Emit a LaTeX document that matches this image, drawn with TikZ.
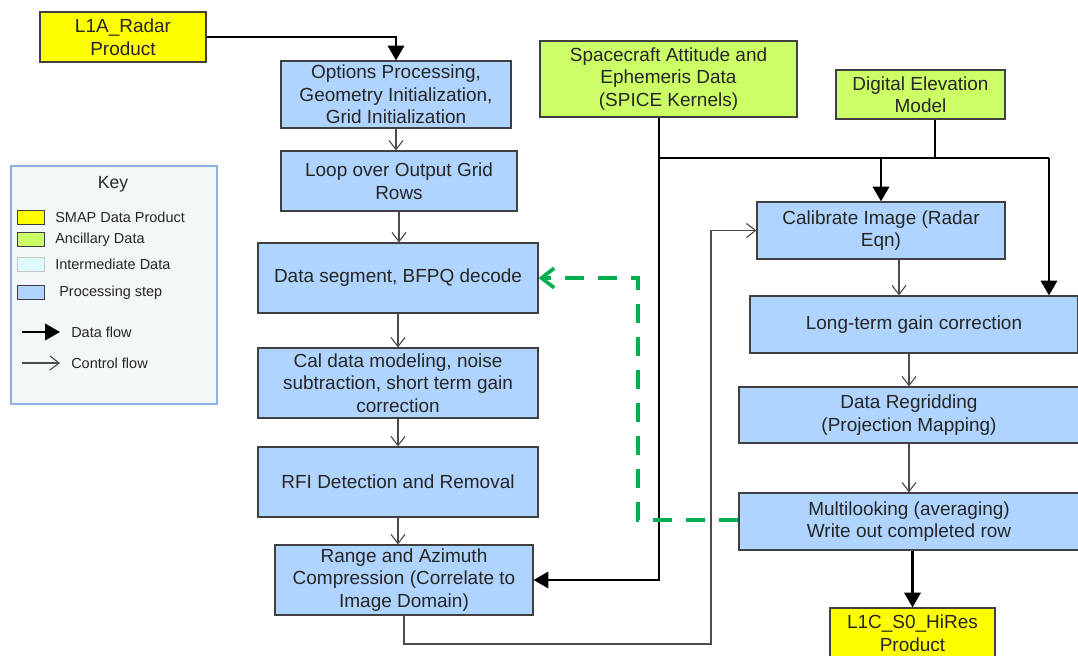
\documentclass[tikz,border=0pt]{standalone}
\usepackage{fontspec}
\setmainfont{Liberation Sans}
\usetikzlibrary{arrows.meta}
\definecolor{prodyellow}{RGB}{255,255,0}
\definecolor{ancgreen}{RGB}{204,255,102}
\definecolor{procblue}{RGB}{175,212,255}
\definecolor{interblue}{RGB}{222,250,252}
\definecolor{keyfill}{RGB}{242,247,250}
\definecolor{keyedge}{RGB}{141,178,226}
\definecolor{edgegray}{RGB}{64,64,64}
\definecolor{fbgreen}{RGB}{0,176,80}
\begin{document}
\begin{tikzpicture}[
		box/.style={draw=edgegray, line width=0.8pt, align=center, inner sep=1pt, text=black!85, font=\fontsize{13.5}{16}\selectfont},
		product/.style={box, fill=prodyellow},
		ancillary/.style={box, fill=ancgreen},
		proc/.style={box, fill=procblue},
		dataline/.style={line width=2pt},
		dataflow/.style={dataline, -{Triangle[length=10.5pt,width=11.5pt]}},
		ctrl/.style={line width=0.8pt, draw=black!70, -{Straight Barb[length=6.5pt,width=10pt]}},
		feedback/.style={line width=2.6pt, draw=fbgreen, dash pattern=on 13.5pt off 10pt, -{Straight Barb[length=9pt,width=14pt]}},
		swatch/.style={draw=edgegray, line width=0.7pt, minimum width=0.675cm, minimum height=0.35cm, inner sep=0pt},
		keylabel/.style={anchor=west, inner sep=0pt, text=black!85, font=\fontsize{10.3}{12}\selectfont}]
	\useasboundingbox (0,0) rectangle (26.95,16.40);
	\node[product, minimum width=4.15cm, minimum height=1.25cm] (l1a) at (3.075,15.475) {L1A\_Radar\\Product};
	\node[proc, minimum width=5.75cm, minimum height=1.675cm] (opts) at (9.90,14.0375) {Options Processing,\\Geometry Initialization,\\Grid Initialization};
	\node[proc, minimum width=5.90cm, minimum height=1.50cm] (loop) at (9.975,11.875) {Loop over Output Grid\\Rows};
	\node[proc, minimum width=7.00cm, minimum height=1.75cm] (data) at (9.95,9.45) {Data segment, BFPQ decode};
	\node[proc, minimum width=7.00cm, minimum height=1.75cm] (cal) at (9.95,6.825) {Cal data modeling, noise\\subtraction, short term gain\\correction};
	\node[proc, minimum width=7.00cm, minimum height=1.75cm] (rfi) at (9.95,4.35) {RFI Detection and Removal};
	\node[proc, minimum width=6.45cm, minimum height=1.75cm] (range) at (10.10,1.90) {Range and Azimuth\\Compression (Correlate to\\Image Domain)};
	\node[ancillary, minimum width=6.425cm, minimum height=1.90cm] (spice) at (16.7125,14.425) {Spacecraft Attitude and\\Ephemeris Data\\(SPICE Kernels)};
	\node[ancillary, minimum width=4.225cm, minimum height=1.225cm] (dem) at (23.0125,14.0375) {Digital Elevation\\Model};
	\node[proc, minimum width=6.20cm, minimum height=1.425cm] (calib) at (22.025,10.6375) {Calibrate Image (Radar\\Eqn)};
	\node[proc, minimum width=8.20cm, minimum height=1.425cm] (lterm) at (22.85,8.2875) {Long-term gain correction};
	\node[proc, minimum width=8.50cm, minimum height=1.40cm] (regrid) at (22.725,6.025) {Data Regridding\\(Projection Mapping)};
	\node[proc, minimum width=8.50cm, minimum height=1.425cm] (multi) at (22.725,3.3625) {Multilooking (averaging)\\Write out completed row};
	\node[product, minimum width=4.125cm, minimum height=1.25cm] (l1c) at (22.8125,0.575) {L1C\_S0\_HiRes\\Product};
	\coordinate (busl) at (16.475,12.45);
	\coordinate (busr) at (26.225,12.45);
	\coordinate (demdrop) at (23.375,12.45);
	\coordinate (retc) at (17.775,0.30);
	\coordinate (fb) at (15.95,3.40);
	\draw[dataflow] (l1a.east) -| (opts.north);
	\draw[dataflow] (spice.south -| busl) |- (range.east);
	\draw[dataline] (busl) -- (busr);
	\draw[dataline] (demdrop |- dem.south) -- (demdrop);
	\draw[dataflow] (calib.north |- busl) -- (calib.north);
	\draw[dataflow] (busr) -- (busr |- lterm.north);
	\draw[ctrl] (opts.south) -- (opts.south |- loop.north);
	\draw[ctrl] (loop.south) -- (loop.south |- data.north);
	\draw[ctrl] (data.south) -- (cal.north);
	\draw[ctrl] (cal.south) -- (rfi.north);
	\draw[ctrl] (rfi.south) -- (rfi.south |- range.north);
	\draw[ctrl] (range.south) |- (retc) |- (calib.west);
	\draw[ctrl] ([xshift=0.45cm]calib.south) -- ([xshift=0.45cm]calib.south |- lterm.north);
	\draw[ctrl] (lterm.south -| regrid.north) -- (regrid.north);
	\draw[ctrl] (regrid.south) -- (multi.north);
	\draw[dataflow] (l1c.north |- multi.south) -- (l1c.north);
	\draw[feedback] (multi.west |- fb) -- (fb) |- (data.east);
	\node[draw=keyedge, fill=keyfill, line width=0.8pt, minimum width=5.15cm, minimum height=5.95cm] (key) at (2.85,9.275) {};
	\node[text=black!85, font=\fontsize{12.5}{14}\selectfont] (keytitle) at (2.825,11.80) {Key};
	\node[swatch, fill=prodyellow] (kprod) at (0.7625,10.9625) {};
	\node[swatch, fill=ancgreen] (kanc) at (0.7625,10.40) {};
	\node[swatch, fill=interblue, draw=gray!45] (kint) at (0.7625,9.7875) {};
	\node[swatch, fill=procblue] (kproc) at (0.7625,9.0875) {};
	\node[keylabel] (lprod) at (1.375,10.9625) {SMAP Data Product};
	\node[keylabel] (lanc) at (1.375,10.40) {Ancillary Data};
	\node[keylabel] (lint) at (1.375,9.7875) {Intermediate Data};
	\node[keylabel] (lproc) at (1.475,9.0875) {Processing step};
	\coordinate (kd1) at (0.55,8.10);
	\coordinate (kd2) at (1.50,8.10);
	\coordinate (kc1) at (0.55,7.325);
	\coordinate (kc2) at (1.50,7.325);
	\draw[dataflow] (kd1) -- (kd2);
	\draw[ctrl] (kc1) -- (kc2);
	\node[keylabel] (ldata) at (1.775,8.10) {Data flow};
	\node[keylabel] (lctrl) at (1.775,7.325) {Control flow};
\end{tikzpicture}
\end{document}
